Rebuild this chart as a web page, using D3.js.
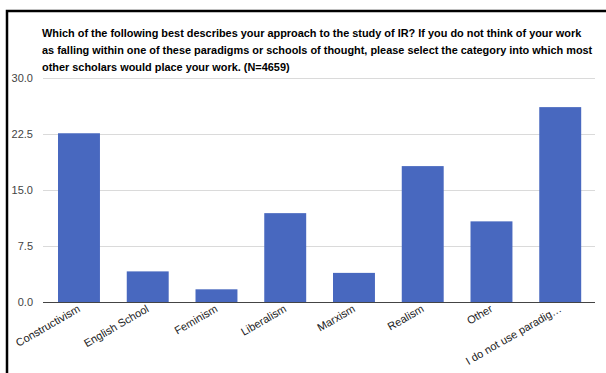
<!DOCTYPE html>
<html>
<head>
<meta charset="utf-8">
<script src="https://cdn.jsdelivr.net/npm/d3@7"></script>
<style>
  html, body { margin: 0; padding: 0; background: #fff; }
  svg { display: block; font-family: "Liberation Sans", Arial, sans-serif; }
</style>
</head>
<body>
<svg id="chart" width="606" height="373"></svg>
<script>
// Survey shares (%) by paradigm
const categories = ["Constructivism", "English School", "Feminism", "Liberalism", "Marxism", "Realism", "Other", "I do not use paradig\u2026"];
const values = [22.6, 4.1, 1.7, 11.9, 3.9, 18.2, 10.8, 26.1];
const yTicks = [0, 7.5, 15, 22.5, 30];
const titleLines = [
  "Which of the following best describes your approach to the study of IR? If you do not think of your work",
  "as falling within one of these paradigms or schools of thought, please select the category into which most",
  "other scholars would place your work. (N=4659)"
];

const svg = d3.select("#chart");
const plot = { left: 43, right: 595, top: 78, bottom: 302 };

// Frame along the top and left edges
svg.append("path")
  .attr("d", "M7,373 V11 H606")
  .attr("fill", "none")
  .attr("stroke", "#000")
  .attr("stroke-width", 2.5);

// Title: sized so the longest line spans the plot width
const title = svg.append("g")
  .selectAll("text")
  .data(titleLines)
  .join("text")
  .attr("x", 42)
  .attr("y", (d, i) => 37 + i * 17)
  .attr("font-size", 12)
  .attr("font-weight", "bold")
  .attr("fill", "#000")
  .text(d => d);
const widest = d3.max(title.nodes(), n => n.getComputedTextLength());
title.attr("font-size", 12 * 551 / widest);

const x = d3.scaleBand()
  .domain(categories)
  .range([44.6, 594.6])
  .paddingInner(0.39)
  .paddingOuter(0.195);

const y = d3.scaleLinear()
  .domain([0, 30])
  .range([plot.bottom, plot.top]);

// Gridlines
svg.append("g")
  .selectAll("line")
  .data(yTicks.filter(t => t > 0))
  .join("line")
  .attr("x1", plot.left)
  .attr("x2", plot.right)
  .attr("y1", d => Math.round(y(d)) + 0.5)
  .attr("y2", d => Math.round(y(d)) + 0.5)
  .attr("stroke", "#dadada")
  .attr("stroke-width", 1);

// Y axis labels
const yAxis = d3.axisLeft(y)
  .tickValues(yTicks)
  .tickFormat(d3.format(".1f"))
  .tickSize(0)
  .tickPadding(0);
const gy = svg.append("g")
  .attr("transform", "translate(33,0)")
  .call(yAxis);
gy.select(".domain").remove();
gy.selectAll("text")
  .attr("font-size", 11)
  .attr("font-family", "Liberation Sans, Arial, sans-serif")
  .attr("fill", "#444");

// Bars
svg.append("g")
  .selectAll("rect")
  .data(values)
  .join("rect")
  .attr("x", (d, i) => x(categories[i]))
  .attr("width", x.bandwidth())
  .attr("y", d => y(d))
  .attr("height", d => y(0) - y(d))
  .attr("fill", "#4868bf");

// Baseline
svg.append("line")
  .attr("x1", plot.left)
  .attr("x2", plot.right)
  .attr("y1", plot.bottom + 0.5)
  .attr("y2", plot.bottom + 0.5)
  .attr("stroke", "#444")
  .attr("stroke-width", 1);

// Slanted category labels
const xAxis = d3.axisBottom(x).tickSize(0).tickPadding(0);
const gx = svg.append("g")
  .attr("transform", `translate(0,${plot.bottom})`)
  .call(xAxis);
gx.select(".domain").remove();
gx.selectAll("text")
  .attr("font-size", 11)
  .attr("font-family", "Liberation Sans, Arial, sans-serif")
  .attr("fill", "#222")
  .attr("text-anchor", "end")
  .attr("dy", null)
  .attr("y", 0)
  .attr("transform", "translate(2,9) rotate(-30)");
</script>
</body>
</html>
